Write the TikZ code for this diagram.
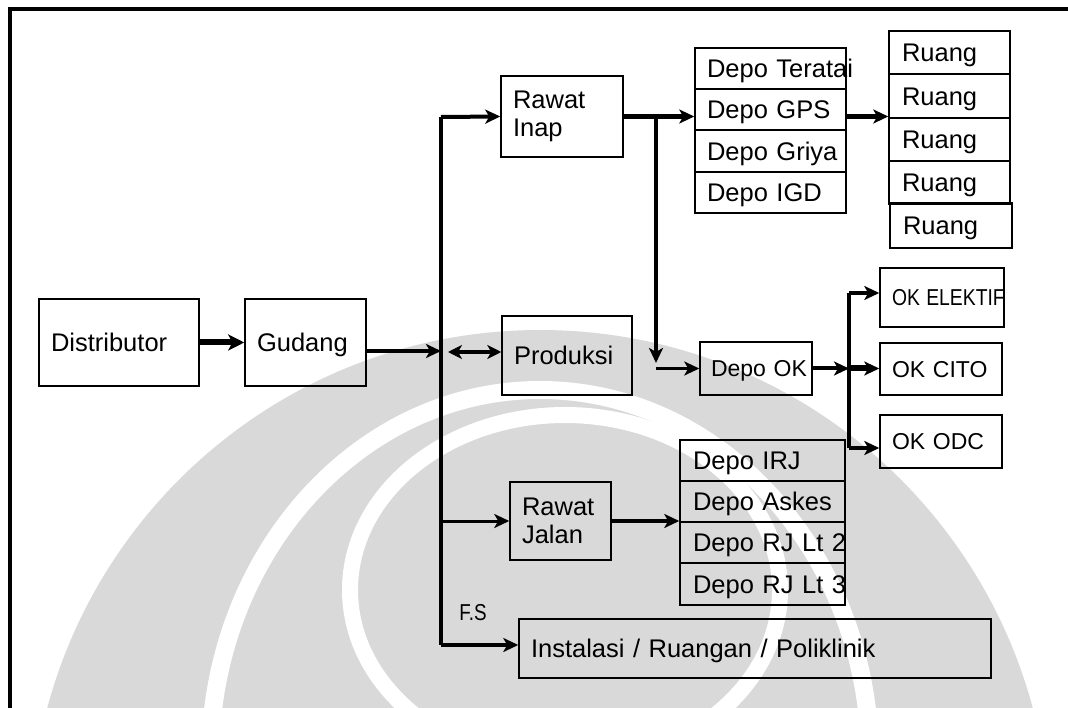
\documentclass[tikz,border=0pt]{standalone}
\usepackage{fontspec}
\setmainfont{Liberation Sans}
\usetikzlibrary{arrows.meta}

\tikzset{
  wm/.style={fill=black!15},
  box/.style={draw=black, line width=1.5pt, inner xsep=12pt, inner ysep=0pt,
              align=left, font=\fontsize{25.5}{28}\selectfont},
  one/.style={text height=22pt, text depth=3.7pt},
  small/.style={font=\fontsize{23}{26}\selectfont, text height=20pt, text depth=3.5pt},
  link/.style={line width=4pt, -{Stealth[length=15pt,width=14pt,inset=4pt]}},
  fatlink/.style={line width=6pt, -{Stealth[length=16pt,width=16pt,inset=4pt]}},
  bus/.style={line width=4pt},
  twoway/.style={line width=4pt, {Stealth[length=14pt,width=14pt,inset=4pt]}-{Stealth[length=14pt,width=14pt,inset=4pt]}},
}

\begin{document}
\begin{tikzpicture}[x=1pt,y=-1pt]
\useasboundingbox (0,0) rectangle (1068,708);

% faint emblem behind the chart
\begin{scope}
  \clip (0,0) rectangle (1068,708);
  \fill[wm] (540,840) circle (510pt);
  \draw[white, line width=18pt] (540,760) ellipse (330pt and 370pt);
  \draw[white, line width=16pt] (565,590) ellipse (215pt and 175pt);
\end{scope}

% page frame
\draw[line width=3.5pt] (10,708) -- (10,9) -- (1068,9);

% main chain
\node[box, one, text width=136pt, minimum height=87pt] (dist) at (119,342.5) {\mbox{Distributor}};
\node[box, one, text width=97pt,  minimum height=87pt] (gud)  at (305.5,342.5) {\mbox{Gudang}};

% units fed from the store
\node[box, text width=98pt,  minimum height=81pt] (ri)   at (562,116.5) {Rawat\\Inap};
\node[box, one, text width=106pt, minimum height=79pt] (prod) at (567,355.5) {\mbox{Produksi}};
\node[box, text width=77pt,  minimum height=78pt] (rj)   at (560.5,521) {Rawat\\Jalan};
\node[box, one, text width=448pt, minimum height=59pt] (inst) at (755,648.5) {\mbox{Instalasi / Ruangan / Poliklinik}};

% inpatient depots
\node[box, one, text width=127pt, minimum height=41pt] (ter) at (770.5,68.5)  {\mbox{Depo Teratai}};
\node[box, one, text width=127pt, minimum height=41pt] (gps) at (770.5,109.5) {\mbox{Depo GPS}};
\node[box, one, text width=127pt, minimum height=42pt] (gri) at (770.5,151)   {\mbox{Depo Griya}};
\node[box, one, text width=127pt, minimum height=41pt] (igd) at (770.5,192.5) {\mbox{Depo IGD}};

% wards
\node[box, one, text width=95pt, inner xsep=13pt, minimum height=43pt] (r1) at (949.5,52.5)  {Ruang};
\node[box, one, text width=95pt, inner xsep=13pt, minimum height=44pt] (r2) at (949.5,96)    {Ruang};
\node[box, one, text width=95pt, inner xsep=13pt, minimum height=43pt] (r3) at (949.5,139.5) {Ruang};
\node[box, one, text width=95pt, inner xsep=13pt, minimum height=43pt] (r4) at (949.5,182.5) {Ruang};
\node[box, one, text width=96pt, inner xsep=13pt, minimum height=45pt] (r5) at (951,225.5)   {Ruang};

% operating theatre
\node[box, small, text width=90pt, inner xsep=11pt, minimum height=53pt] (dok) at (756,368.5) {\mbox{Depo OK}};
\node[box, small, text width=100pt, minimum height=59pt] (el)   at (942,297.5) {\scalebox{0.84}[1]{OK ELEKTIF}};
\node[box, small, text width=98pt,  minimum height=52pt] (cito) at (941,369)   {\mbox{OK CITO}};
\node[box, small, text width=98pt,  minimum height=53pt] (odc)  at (941,441.5) {\mbox{OK ODC}};

% outpatient depots
\node[box, one, text width=139pt, inner xsep=13pt, minimum height=41pt] (irj) at (762.5,460.5) {\mbox{Depo IRJ}};
\node[box, one, text width=139pt, inner xsep=13pt, minimum height=41pt] (ask) at (762.5,501.5) {\mbox{Depo Askes}};
\node[box, one, text width=139pt, inner xsep=13pt, minimum height=41pt] (lt2) at (762.5,542.5) {\mbox{Depo RJ Lt 2}};
\node[box, one, text width=139pt, inner xsep=13pt, minimum height=42pt] (lt3) at (762.5,584)   {\mbox{Depo RJ Lt 3}};

% label on the floor-stock branch
\node[font=\fontsize{23}{26}\selectfont, inner sep=0pt] (fs) at (473,613) {\scalebox{0.82}[1]{F.S}};

% junction points
\coordinate (busTop) at (441,117);
\coordinate (busMid) at (441,351);
\coordinate (busBot) at (441,645);
\coordinate (jn)     at (656,117);
\coordinate (brTop)  at (849,293);
\coordinate (brMid)  at (849,368.5);
\coordinate (brBot)  at (849,448);
\coordinate (dblL)   at (448,352);

% connectors
\draw[fatlink] (dist.east) -- (gud.west);
\draw[link] (gud.east |- busMid) -- (busMid);
\draw[bus] (busTop) -- (busBot);
\draw[link] (busTop) -- (ri.west);
\draw[twoway] (dblL) -- (dblL -| prod.west);
\draw[link, line width=3pt] (busTop |- rj.west) -- (rj.west);
\draw[link] (busBot) -- (busBot -| inst.west);

\draw[link, line width=5pt] (ri.east) -- (ri.east -| gps.west);
\draw[link] (jn) -- ([yshift=-246pt]jn);
\draw[link, line width=3.5pt] (jn |- dok.west) -- (dok.west);
\draw[link, line width=5pt] (ri.east -| gps.east) -- (ri.east -| r2.west);

\draw[link] (dok.east) -- (brMid);
\draw[bus] (brTop) -- (brBot);
\draw[link] (brTop) -- (brTop -| el.west);
\draw[link, line width=6pt] (brMid) -- (brMid -| cito.west);
\draw[link] (brBot) -- (brBot -| odc.west);

\draw[link] (rj.east) -- (rj.east -| irj.west);
\end{tikzpicture}
\end{document}
